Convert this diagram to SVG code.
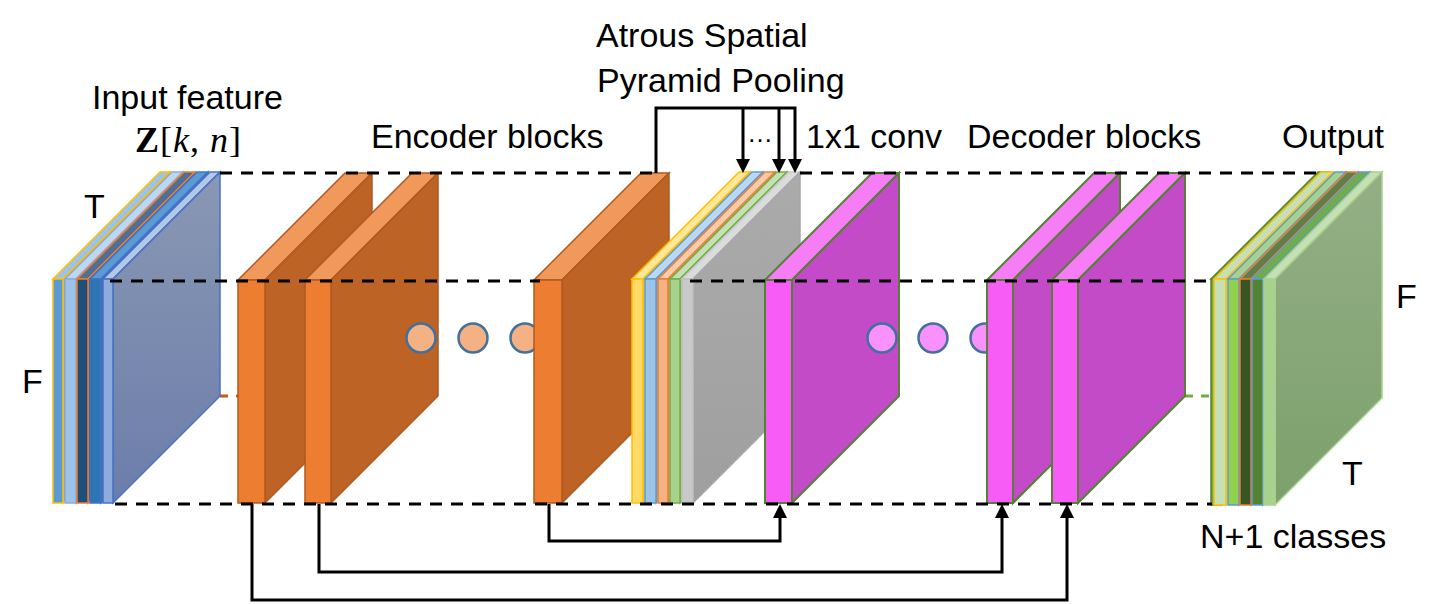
<svg xmlns="http://www.w3.org/2000/svg" width="1436" height="604" viewBox="0 0 1436 604">
<style>
text{font-family:"Liberation Sans",Arial,sans-serif;font-size:34px;fill:#000}
.dash{fill:none;stroke:#000;stroke-width:3;stroke-dasharray:12 9}
.conn{fill:none;stroke:#000;stroke-width:3}
.enc .f{fill:#ED7D31}.enc .t{fill:#F1985B}.enc .s{fill:#BD6325}
.enc polygon,.enc rect{stroke:#AE5A21;stroke-width:1.5}
.dec .f{fill:#F75CF6}.dec .t{fill:#F77DF7}.dec .s{fill:#C44BC7}
.dec polygon,.dec rect{stroke:#548235;stroke-width:2}
.lay polygon,.lay rect{stroke-width:1.5}
.edot{fill:#F4B183;stroke:#41719C;stroke-width:2.5}
.ddot{fill:#FA91FB;stroke:#41719C;stroke-width:2.5}
</style>
<defs>
<linearGradient id="gIn" x1="0" y1="0" x2="0" y2="1"><stop offset="0" stop-color="#8998B3"/><stop offset="1" stop-color="#6C7DAB"/></linearGradient>
<linearGradient id="gAs" x1="0" y1="0" x2="0" y2="1"><stop offset="0" stop-color="#ABABAB"/><stop offset="1" stop-color="#9F9F9F"/></linearGradient>
<linearGradient id="gOut" x1="0" y1="0" x2="0" y2="1"><stop offset="0" stop-color="#94AF87"/><stop offset="1" stop-color="#7CA06B"/></linearGradient>
<marker id="ah" viewBox="0 0 14 14" refX="3" refY="7" markerWidth="14" markerHeight="14" markerUnits="userSpaceOnUse" orient="auto"><path d="M0,0 L14,7 L0,14 z" fill="#000"/></marker>
</defs>

<g id="back-lines">
<path d="M220,396 H240" fill="none" stroke="#C55A11" stroke-width="3" stroke-dasharray="8 8"/>
<path d="M1185,396 H1212" fill="none" stroke="#70AD47" stroke-width="3" stroke-dasharray="8 8"/>
</g>

<g id="input-stack" class="lay">
<polygon points="53,279 63,279 170,172 160,172" fill="#9DC3E6" stroke="#FFC000"/>
<polygon points="63,279 170,172 170,396 63,503" fill="#5B9BD5" stroke="#FFC000"/>
<rect x="53" y="279" width="10" height="224" fill="#5B9BD5" stroke="#FFC000"/>
<polygon points="65,279 76,279 183,172 172,172" fill="#BDD7EE" stroke="#8FAADC"/>
<polygon points="76,279 183,172 183,396 76,503" fill="#9DC3E6" stroke="#8FAADC"/>
<rect x="65" y="279" width="11" height="224" fill="#9DC3E6" stroke="#8FAADC"/>
<polygon points="77,279 88,279 195,172 184,172" fill="#4E7094" stroke="#ED7D31"/>
<polygon points="88,279 195,172 195,396 88,503" fill="#1F4E79" stroke="#ED7D31"/>
<rect x="77" y="279" width="11" height="224" fill="#1F4E79" stroke="#ED7D31"/>
<polygon points="90,279 101,279 208,172 197,172" fill="#5B9BD5" stroke="#4472C4"/>
<polygon points="101,279 208,172 208,396 101,503" fill="#2E75B6" stroke="#4472C4"/>
<rect x="90" y="279" width="11" height="224" fill="#2E75B6" stroke="#4472C4"/>
<polygon points="103,279 113,279 220,172 210,172" fill="#B4C7E7" stroke="#4472C4"/>
<polygon points="113,279 220,172 220,396 113,503" fill="url(#gIn)" stroke="#4472C4"/>
<rect x="103" y="279" width="10" height="224" fill="#8FAADC" stroke="#4472C4"/>
</g>

<g id="encoder-1" class="enc">
<polygon class="t" points="238,280 265,280 372,173 345,173"/>
<polygon class="s" points="265,280 372,173 372,396 265,503"/>
<rect class="f" x="238" y="280" width="27" height="223"/>
</g>
<g id="encoder-2" class="enc">
<polygon class="t" points="305,280 331,280 438,173 412,173"/>
<polygon class="s" points="331,280 438,173 438,396 331,503"/>
<rect class="f" x="305" y="280" width="26" height="223"/>
</g>
<g id="encoder-dots">
<circle class="edot" cx="421" cy="338" r="14.5"/>
<circle class="edot" cx="473" cy="338" r="14.5"/>
<circle class="edot" cx="525" cy="338" r="14.5"/>
</g>
<g id="encoder-3" class="enc">
<polygon class="t" points="534,280 562,280 669,173 641,173"/>
<polygon class="s" points="562,280 669,173 669,396 562,503"/>
<rect class="f" x="534" y="280" width="28" height="223"/>
</g>

<g id="aspp-stack" class="lay">
<polygon points="632,279 643,279 750,172 739,172" fill="#FFE699" stroke="#FFC000"/>
<polygon points="643,279 750,172 750,396 643,503" fill="#FFD966" stroke="#FFC000"/>
<rect x="632" y="279" width="11" height="224" fill="#FFD966" stroke="#FFC000"/>
<polygon points="645,279 656,279 763,172 752,172" fill="#BDD7EE" stroke="#5B9BD5"/>
<polygon points="656,279 763,172 763,396 656,503" fill="#9DC3E6" stroke="#5B9BD5"/>
<rect x="645" y="279" width="11" height="224" fill="#9DC3E6" stroke="#5B9BD5"/>
<polygon points="658,279 668,279 775,172 765,172" fill="#F8CBAD" stroke="#ED7D31"/>
<polygon points="668,279 775,172 775,396 668,503" fill="#F4B183" stroke="#ED7D31"/>
<rect x="658" y="279" width="10" height="224" fill="#F4B183" stroke="#ED7D31"/>
<polygon points="670,279 680,279 787,172 777,172" fill="#C5E0B4" stroke="#70AD47"/>
<polygon points="680,279 787,172 787,396 680,503" fill="#A9D18E" stroke="#70AD47"/>
<rect x="670" y="279" width="10" height="224" fill="#A9D18E" stroke="#70AD47"/>
<polygon points="682,279 693,279 800,172 789,172" fill="#DBDBDB" stroke="#C9C9C9"/>
<polygon points="693,279 800,172 800,396 693,503" fill="url(#gAs)" stroke="#A5A5A5"/>
<rect x="682" y="279" width="11" height="224" fill="#C9C9C9" stroke="#BFBFBF"/>
</g>

<g id="decoder-1" class="dec">
<polygon class="t" points="765,280 792,280 899,173 872,173"/>
<polygon class="s" points="792,280 899,173 899,396 792,503"/>
<rect class="f" x="765" y="280" width="27" height="223"/>
</g>
<g id="decoder-dots">
<circle class="ddot" cx="882" cy="338" r="14.5"/>
<circle class="ddot" cx="933" cy="338" r="14.5"/>
<circle class="ddot" cx="985" cy="338" r="14.5"/>
</g>
<g id="decoder-2" class="dec">
<polygon class="t" points="987,280 1013,280 1120,173 1094,173"/>
<polygon class="s" points="1013,280 1120,173 1120,396 1013,503"/>
<rect class="f" x="987" y="280" width="26" height="223"/>
</g>
<g id="decoder-3" class="dec">
<polygon class="t" points="1052,280 1078,280 1185,173 1159,173"/>
<polygon class="s" points="1078,280 1185,173 1185,396 1078,503"/>
<rect class="f" x="1052" y="280" width="26" height="223"/>
</g>

<g id="output-stack" class="lay">
<polygon points="1211,279 1222,279 1329,172 1318,172" fill="#70AD47" stroke="#548235"/>
<rect x="1211" y="279" width="11" height="226" fill="#70AD47" stroke="#548235"/>
<polygon points="1214,279 1226,279 1333,172 1321,172" fill="#C5E0B4" stroke="#FFC000"/>
<polygon points="1226,279 1333,172 1333,398 1226,505" fill="#C5E0B4" stroke="#FFC000"/>
<rect x="1214" y="279" width="12" height="226" fill="#C5E0B4" stroke="#FFC000"/>
<polygon points="1228,279 1239,279 1346,172 1335,172" fill="#A9D18E" stroke="#5B9BD5"/>
<polygon points="1239,279 1346,172 1346,398 1239,505" fill="#92D050" stroke="#5B9BD5"/>
<rect x="1228" y="279" width="11" height="226" fill="#92D050" stroke="#5B9BD5"/>
<polygon points="1240,279 1251,279 1358,172 1347,172" fill="#5E7F4A" stroke="#ED7D31"/>
<polygon points="1251,279 1358,172 1358,398 1251,505" fill="#375623" stroke="#ED7D31"/>
<rect x="1240" y="279" width="11" height="226" fill="#375623" stroke="#ED7D31"/>
<polygon points="1252,279 1263,279 1370,172 1359,172" fill="#70AD47" stroke="#5B9BD5"/>
<polygon points="1263,279 1370,172 1370,398 1263,505" fill="#548235" stroke="#5B9BD5"/>
<rect x="1252" y="279" width="11" height="226" fill="#548235" stroke="#5B9BD5"/>
<polygon points="1264,279 1275,279 1382,172 1371,172" fill="#C5E0B4" stroke="#A9D18E"/>
<polygon points="1275,279 1382,172 1382,398 1275,505" fill="url(#gOut)" stroke="#A9D18E"/>
<rect x="1264" y="279" width="11" height="226" fill="#A9D18E" stroke="#A9D18E"/>
</g>

<g id="connectors">
<path class="dash" d="M220,173 H656"/>
<path class="dash" d="M800,173 H1318"/>
<path class="dash" d="M110,281 H540"/>
<path class="dash" d="M690,281 H1206"/>
<path class="dash" d="M115,504 H1212"/>
<path class="conn" d="M656,173 V108 H795 V162" marker-end="url(#ah)"/>
<path class="conn" d="M743,108 V162" marker-end="url(#ah)"/>
<path class="conn" d="M779,108 V162" marker-end="url(#ah)"/>
<path class="conn" d="M549,504 V541 H780 V515" marker-end="url(#ah)"/>
<path class="conn" d="M319,504 V572 H1002 V515" marker-end="url(#ah)"/>
<path class="conn" d="M252,504 V600 H1067 V515" marker-end="url(#ah)"/>
</g>

<g id="labels">
<text x="92" y="109">Input feature</text>
<text x="135" y="152" textLength="106" style="font-family:'Liberation Serif',serif;font-size:36px"><tspan font-weight="bold">Z</tspan>[<tspan font-style="italic">k</tspan>, <tspan font-style="italic">n</tspan>]</text>
<text x="84" y="218">T</text>
<text x="22" y="393">F</text>
<text x="371" y="148">Encoder blocks</text>
<text x="596" y="47">Atrous Spatial</text>
<text x="597" y="92">Pyramid Pooling</text>
<text x="747" y="142" style="font-size:26px">…</text>
<text x="806" y="148">1x1 conv</text>
<text x="967" y="148">Decoder blocks</text>
<text x="1282" y="148">Output</text>
<text x="1396" y="308">F</text>
<text x="1342" y="485">T</text>
<text x="1200" y="548">N+1 classes</text>
</g>
</svg>
